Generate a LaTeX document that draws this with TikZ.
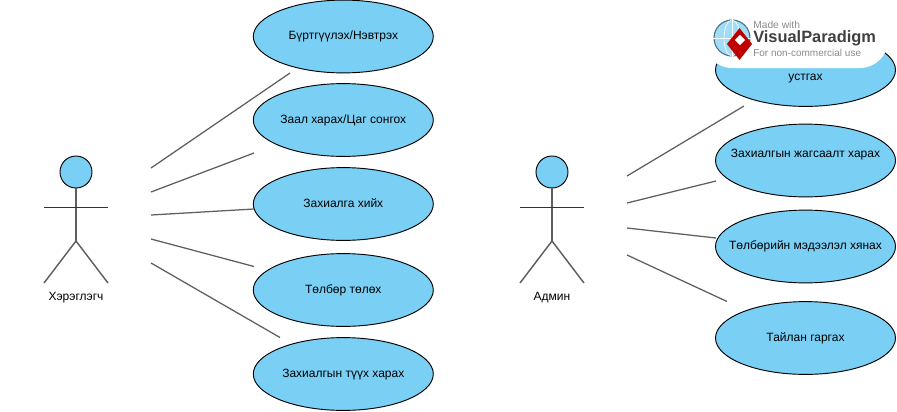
\documentclass[tikz,border=0pt]{standalone}
\usepackage{fontspec}
\setmainfont{Liberation Sans}
\usetikzlibrary{shapes.geometric}
\definecolor{fillb}{HTML}{7ACFF5}
\definecolor{linec}{HTML}{5F5F5F}
\newcommand{\uctext}[2][-2.6pt]{\raisebox{#1}[0pt][0pt]{\makebox[0pt][c]{#2}}}
\tikzset{
  x=0.75pt,y=-0.75pt,
  usecase/.style={ellipse,draw=black,line width=0.7pt,fill=fillb,minimum width=135pt,minimum height=54.6pt,inner sep=0pt,font=\fontsize{9}{11}\selectfont},
  link/.style={draw=linec,line width=0.95pt},
  limb/.style={draw=linec,line width=1.1pt},
  arm/.style={draw=black!80,line width=0.75pt},
  head/.style={circle,draw=black,line width=0.7pt,fill=fillb,minimum size=24pt,inner sep=0pt},
  actorlabel/.style={font=\fontsize{9}{11}\selectfont,inner sep=0pt},
}
\begin{document}
\begin{tikzpicture}
\useasboundingbox (0,0) rectangle (897,411);
% left use cases
\node[usecase] (u1) at (343.3,36.5) {\uctext{Бүртгүүлэх/Нэвтрэх}};
\node[usecase] (u2) at (343.3,120) {\uctext{Заал харах/Цаг сонгох}};
\node[usecase] (u3) at (343.3,204) {\uctext{Захиалга хийх}};
\node[usecase] (u4) at (343.3,290) {\uctext{Төлбөр төлөх}};
\node[usecase] (u5) at (343.3,374) {\uctext{Захиалгын түүх харах}};
% right use cases
\node[usecase] (r1) at (805.5,70) {\uctext[-8pt]{устгах}};
\node[usecase] (r2) at (805.5,160.5) {\uctext[2.6pt]{Захиалгын жагсаалт харах}};
\node[usecase] (r3) at (805.5,246.5) {\uctext{Төлбөрийн мэдээлэл хянах}};
\node[usecase] (r4) at (805.5,338) {\uctext{Тайлан гаргах}};
% left actor
\node[head] (hl) at (76,172) {};
\coordinate (hipl) at (76,241);
\coordinate (al) at (44,207);
\coordinate (ar) at (108,207);
\coordinate (fl) at (44,283);
\coordinate (fr) at (108,283);
\draw[limb] (hl.south) -- (hipl);
\draw[limb] (fl) -- (hipl) -- (fr);
\draw[arm] (al) -- (ar);
\node[actorlabel] (tl) at (76,297.5) {Хэрэглэгч};
% right actor
\node[head] (hr) at (552,172) {};
\coordinate (hipr) at (552,241);
\coordinate (bl) at (520,207);
\coordinate (br) at (584,207);
\coordinate (gl) at (520,283);
\coordinate (gr) at (584,283);
\draw[limb] (hr.south) -- (hipr);
\draw[limb] (gl) -- (hipr) -- (gr);
\draw[arm] (bl) -- (br);
\node[actorlabel] (tr) at (552,297.5) {Админ};
% left connectors
\coordinate (a1) at (151,168); \coordinate (e1) at (290,73);
\coordinate (a2) at (151,192); \coordinate (e2) at (254,153);
\coordinate (a3) at (151,215); \coordinate (e3) at (254,209);
\coordinate (a4) at (151,239); \coordinate (e4) at (254,266.5);
\coordinate (a5) at (151,263); \coordinate (e5) at (280,337.5);
\draw[link] (a1) -- (e1);
\draw[link] (a2) -- (e2);
\draw[link] (a3) -- (e3);
\draw[link] (a4) -- (e4);
\draw[link] (a5) -- (e5);
% right connectors
\coordinate (b1) at (627,176); \coordinate (f1) at (744,106);
\coordinate (b2) at (627,203); \coordinate (f2) at (716,181);
\coordinate (b3) at (627,228); \coordinate (f3) at (716,238);
\coordinate (b4) at (627,255); \coordinate (f4) at (727,301.5);
\draw[link] (b1) -- (f1);
\draw[link] (b2) -- (f2);
\draw[link] (b3) -- (f3);
\draw[link] (b4) -- (f4);
% watermark
\node[fill=white,rounded corners=21pt,minimum width=138pt,minimum height=43.5pt,inner sep=0pt] (wm) at (796,39) {};
\node[circle,draw=black!55!cyan,line width=0.8pt,fill=fillb!70,minimum size=27pt,inner sep=0pt] (globe) at (732,38) {};
\draw[white,line width=0.5pt] (globe.west) -- (globe.east) (globe.north) -- (globe.south);
\draw[white,line width=0.5pt] (globe.center) ellipse (8 and 18);
\node[diamond,fill=red!75!black,minimum width=19pt,minimum height=24pt,inner sep=0pt] (logo) at (739.5,44) {};
\node[diamond,fill=white,minimum size=8pt,inner sep=0pt] (logoin) at (740,40) {};
\node[anchor=west,inner sep=0pt,text=black!45,font=\fontsize{7.7}{9}\selectfont] (wm1) at (753,25) {Made with};
\node[anchor=west,inner sep=0pt,text=black!75,font=\fontsize{12.3}{14}\bfseries\selectfont] (wm2) at (753,38.5) {VisualParadigm};
\node[anchor=west,inner sep=0pt,text=black!45,font=\fontsize{7.5}{9}\selectfont] (wm3) at (753,53) {For non-commercial use};
\end{tikzpicture}
\end{document}
